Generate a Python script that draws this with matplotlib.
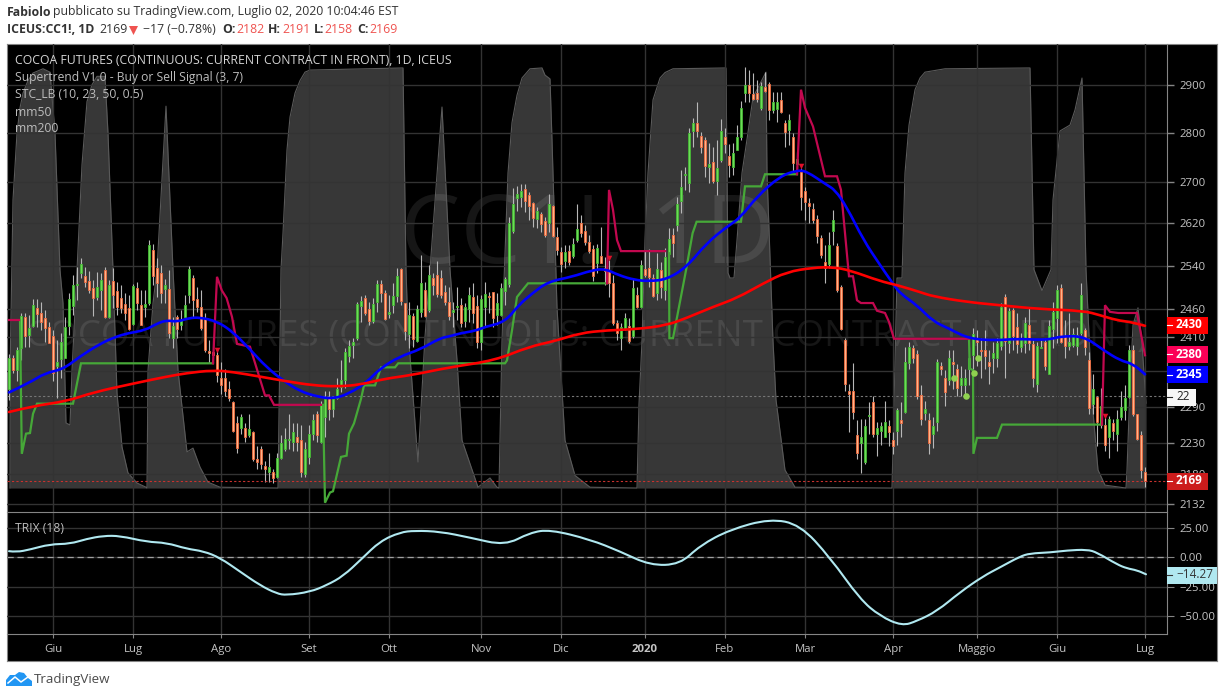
import matplotlib
matplotlib.use('Agg')
import matplotlib.pyplot as plt
from matplotlib.patches import PathPatch, Polygon, Rectangle
from matplotlib.path import Path

plt.rcParams['font.family'] = ['Open Sans', 'DejaVu Sans']

opens = [2319,2374,2352,2390,2445,2413,2429,2462,2453,2444,
 2427,2411,2359,2371,2374,2429,2465,2503,2526,2520,
 2511,2498,2482,2494,2531,2445,2511,2492,2480,2469,
 2462,2433,2498,2467,2463,2471,2569,2535,2526,2496,
 2496,2408,2445,2431,2445,2485,2517,2478,2463,2444,
 2385,2383,2378,2338,2339,2319,2298,2262,2254,2254,
 2242,2247,2203,2220,2193,2182,2182,2175,2206,2220,
 2234,2232,2240,2235,2179,2207,2245,2277,2231,2272,
 2307,2286,2305,2324,2336,2376,2396,2409,2465,2480,
 2460,2438,2472,2506,2489,2452,2467,2483,2533,2471,
 2415,2447,2403,2454,2494,2458,2517,2522,2517,2491,
 2472,2454,2463,2467,2438,2460,2482,2465,2401,2463,
 2483,2491,2449,2449,2492,2506,2605,2669,2671,2687,
 2675,2659,2628,2638,2624,2620,2654,2594,2565,2548,
 2567,2557,2588,2620,2605,2584,2571,2544,2557,2535,
 2529,2507,2435,2408,2424,2429,2411,2485,2463,2533,
 2535,2517,2489,2531,2494,2561,2597,2617,2663,2714,
 2699,2804,2821,2794,2785,2731,2741,2703,2745,2791,
 2753,2731,2765,2791,2884,2900,2880,2882,2852,2896,
 2903,2848,2850,2869,2821,2806,2791,2737,2721,2683,
 2659,2648,2628,2592,2546,2542,2605,2576,2500,2404,
 2317,2317,2242,2229,2199,2274,2298,2245,2250,2240,
 2257,2234,2250,2268,2281,2364,2390,2380,2310,2280,
 2267,2244,2264,2359,2339,2336,2366,2355,2327,2326,
 2354,2378,2408,2388,2387,2367,2373,2374,2394,2482,
 2399,2458,2427,2392,2399,2431,2397,2329,2391,2401,
 2346,2424,2444,2498,2411,2394,2396,2394,2417,2422,
 2369,2295,2307,2259,2260,2240,2262,2245,2272,2285,
 2307,2387,2278,2242,2182]
highs = [2380,2378,2392,2453,2453,2449,2478,2478,2472,2458,
 2436,2422,2404,2417,2445,2489,2522,2537,2554,2537,
 2529,2513,2527,2526,2537,2513,2535,2509,2504,2489,
 2485,2506,2509,2494,2494,2588,2580,2554,2541,2515,
 2531,2445,2449,2458,2485,2539,2522,2500,2494,2453,
 2404,2409,2390,2366,2355,2334,2300,2275,2277,2262,
 2278,2249,2225,2225,2201,2214,2188,2214,2242,2254,
 2278,2262,2262,2259,2231,2259,2278,2283,2300,2317,
 2317,2308,2338,2369,2390,2404,2409,2472,2483,2485,
 2472,2480,2513,2513,2494,2485,2507,2535,2535,2471,
 2472,2453,2467,2559,2509,2541,2526,2548,2531,2504,
 2500,2472,2500,2480,2471,2500,2507,2485,2485,2509,
 2491,2491,2489,2507,2518,2632,2689,2693,2697,2697,
 2681,2661,2652,2642,2632,2677,2656,2613,2575,2578,
 2578,2592,2657,2636,2617,2597,2578,2580,2613,2556,
 2550,2522,2440,2435,2453,2444,2517,2500,2550,2569,
 2571,2524,2563,2546,2573,2611,2611,2671,2725,2731,
 2810,2831,2863,2802,2791,2779,2771,2785,2829,2810,
 2777,2779,2816,2867,2939,2932,2926,2911,2907,2928,
 2907,2886,2886,2886,2827,2838,2800,2761,2729,2691,
 2669,2659,2636,2597,2578,2603,2646,2582,2504,2408,
 2329,2364,2267,2270,2270,2297,2308,2264,2264,2300,
 2267,2247,2288,2298,2392,2401,2396,2387,2326,2300,
 2280,2272,2371,2366,2352,2387,2387,2362,2360,2355,
 2392,2426,2422,2408,2422,2387,2401,2408,2471,2487,
 2462,2462,2453,2417,2445,2462,2404,2401,2404,2408,
 2440,2472,2504,2506,2440,2453,2426,2427,2507,2426,
 2383,2346,2308,2321,2275,2275,2269,2285,2317,2327,
 2396,2396,2278,2249,2191]
lows = [2302,2348,2334,2369,2392,2392,2427,2427,2422,2401,
 2399,2334,2305,2339,2373,2413,2449,2476,2517,2500,
 2489,2447,2476,2458,2444,2444,2462,2449,2453,2440,
 2422,2431,2458,2431,2445,2467,2504,2482,2471,2471,
 2408,2390,2409,2422,2444,2471,2444,2454,2422,2383,
 2364,2364,2331,2312,2308,2300,2247,2214,2245,2231,
 2239,2201,2188,2188,2167,2167,2165,2173,2204,2217,
 2220,2217,2217,2175,2175,2196,2234,2231,2229,2239,
 2267,2272,2303,2314,2321,2366,2374,2404,2436,2449,
 2431,2435,2454,2472,2440,2444,2453,2472,2467,2404,
 2390,2392,2401,2445,2445,2454,2485,2482,2480,2467,
 2440,2427,2440,2427,2427,2436,2435,2390,2387,2427,
 2453,2427,2431,2447,2467,2500,2601,2644,2652,2642,
 2626,2613,2611,2603,2594,2603,2594,2559,2527,2535,
 2541,2554,2584,2594,2578,2563,2511,2526,2544,2504,
 2482,2431,2404,2387,2422,2399,2409,2462,2462,2518,
 2500,2482,2476,2480,2476,2554,2556,2605,2640,2685,
 2681,2771,2792,2759,2711,2699,2699,2675,2741,2759,
 2711,2715,2765,2785,2865,2865,2869,2863,2848,2886,
 2827,2842,2823,2842,2771,2775,2721,2721,2646,2626,
 2620,2620,2582,2554,2507,2535,2578,2491,2422,2317,
 2247,2270,2204,2181,2195,2245,2239,2209,2227,2239,
 2224,2212,2227,2240,2280,2355,2364,2303,2259,2267,
 2212,2222,2250,2343,2291,2326,2319,2308,2308,2307,
 2326,2352,2360,2339,2355,2329,2348,2357,2387,2339,
 2382,2387,2382,2383,2382,2387,2324,2315,2390,2352,
 2345,2390,2399,2399,2373,2387,2392,2378,2413,2378,
 2278,2278,2224,2255,2217,2206,2234,2217,2267,2267,
 2305,2275,2234,2173,2158]
closes = [2373,2352,2387,2447,2411,2426,2467,2451,2436,2426,
 2399,2348,2367,2401,2427,2478,2504,2505,2542,2509,
 2494,2480,2500,2513,2445,2504,2485,2463,2462,2453,
 2424,2502,2471,2431,2469,2578,2520,2507,2489,2504,
 2418,2429,2424,2440,2467,2533,2476,2463,2426,2387,
 2382,2378,2343,2327,2317,2305,2250,2222,2272,2240,
 2252,2203,2198,2196,2187,2190,2173,2206,2229,2237,
 2237,2247,2232,2182,2220,2244,2268,2242,2295,2303,
 2286,2303,2319,2336,2383,2394,2401,2469,2474,2453,
 2438,2469,2506,2489,2442,2454,2483,2520,2474,2420,
 2449,2406,2460,2507,2447,2522,2504,2487,2485,2472,
 2447,2458,2465,2435,2463,2485,2453,2401,2478,2487,
 2482,2444,2471,2498,2515,2620,2657,2677,2683,2663,
 2654,2630,2644,2618,2597,2657,2596,2569,2542,2565,
 2546,2580,2609,2601,2584,2567,2520,2573,2544,2529,
 2507,2435,2417,2427,2444,2403,2498,2463,2541,2522,
 2518,2483,2533,2500,2556,2590,2582,2657,2691,2716,
 2800,2821,2804,2771,2733,2737,2703,2729,2804,2777,
 2735,2759,2791,2852,2900,2882,2871,2871,2898,2888,
 2848,2865,2863,2844,2802,2827,2739,2747,2671,2661,
 2654,2626,2596,2559,2535,2578,2626,2494,2424,2329,
 2312,2281,2214,2240,2257,2276,2245,2254,2257,2265,
 2247,2224,2285,2262,2366,2392,2373,2308,2270,2286,
 2229,2257,2367,2354,2315,2374,2362,2322,2339,2339,
 2374,2415,2401,2385,2376,2360,2382,2399,2463,2403,
 2456,2411,2397,2404,2435,2399,2338,2394,2393,2360,
 2429,2454,2494,2401,2394,2401,2415,2413,2485,2392,
 2288,2319,2264,2291,2227,2270,2250,2270,2290,2305,
 2387,2277,2237,2186,2169]

# medie mobili, lette a intervalli
mm50_x = [0,5.25,9,13.6,17.75,22.75,26.5,29.8,34,37,39.4,42,45,47.75,52,56,60,64.4,68.6,72.75,77,81,85,89.4,92.75,97.75,102.75,107.75,110,113,116.5,119,124,127.4,130.7,134.8,140.7,145.7,149,152.4,156.5,160,164.4,169.4,174.4,179.4,182.75,187,192.75,197,199.4,204.4,206.5,209.4,213.6,217.75,221,223,227,231,235,240,246.8,251.9,257.8,261,262.8,268.6,273.6,277.75,281,284]
mm50_y = [2314,2331,2347,2354,2376,2398,2410,2417,2422,2434,2440,2437,2444,2445,2438,2419,2390,2357,2334,2316,2307,2303,2312,2331,2355,2376,2388,2408,2411,2417,2421,2428,2437,2467,2488,2510,2519,2531,2534,2522,2513,2511,2514,2537,2582,2613,2630,2672,2712,2724,2722,2695,2685,2652,2588,2541,2506,2487,2467,2438,2425,2407,2404,2407,2405,2407,2411,2412,2387,2369,2363,2345]
mm200_x = [0,6,14.4,21,31,39.4,44.4,51,56,62.75,69.4,76,82,87.75,93.6,101,110,121.5,130,136.5,142.75,149.4,157,164.4,169.4,176,182,188.6,194.4,201,206,210.25,217.75,221.9,227.75,231,239.4,247.75,257.75,268.6,272.75,276.9,280.25,284]
mm200_y = [2281,2291,2299,2314,2329,2341,2347,2352,2349,2341,2333,2326,2324,2327,2337,2344,2357,2369,2393,2403,2417,2422,2424,2431,2444,2464,2480,2507,2528,2536,2537,2531,2511,2504,2491,2483,2473,2467,2460,2457,2449,2440,2437,2430]

# supertrend, tratti alternati
up1_x = [2.75,3.2,4.25,5.25,6,7,16,18,51]
up1_y = [2440,2212,2245,2246,2278,2295,2295,2364,2364]
up2_x = [78.5,79,80.25,81,83,84.4,85,86.25,88,88.75,91.5,93,96.5,97.3,124,124.5,125.75,127,129.75,149.5]
up2_y = [2293,2134,2150,2152,2207,2209,2245,2262,2303,2326,2326,2357,2357,2364,2364,2369,2422,2482,2507,2507]
up3_x = [165,165.1,166,169.25,170.9,171.9,183,184,188,189,197]
up3_y = [2563,2408,2408,2531,2601,2623,2623,2692,2692,2716,2716]
up4_x = [240,240.2,241,241.1,242,247,248.25,273.25]
up4_y = [2407,2355,2352,2212,2238,2238,2260,2260]
dn0_x = [0,2.5]
dn0_y = [2440,2440]
dn1_x = [51,52,53.2,54.4,55.75,57,60.25,64,65,66.25,78]
dn1_y = [2364,2519,2494,2480,2446,2398,2393,2309,2309,2293,2293]
dn2_x = [149.5,150,151,152,153,164]
dn2_y = [2507,2685,2646,2588,2567,2567]
dn3_x = [197,198,199,201,204,207,208,210,211,212,213,216,217,219,220,221.25,240]
dn3_y = [2716,2890,2852,2813,2712,2712,2685,2520,2520,2476,2471,2471,2457,2453,2437,2407,2407]
dn4_x = [273.25,274,275.25,277.3,282,284]
dn4_y = [2260,2467,2455,2453,2453,2378]
sell_x = [52,150,198,274]
sell_y = [2387,2554,2733,2275]
dots_x = [236.25,239.25,241.25,242.25]
dots_y = [2339,2308,2348,2374]

# STC_LB, 0-100
stc_x = [0.25,0.3,1,2,2.75,3.5,4.75,6,8.5,10.25,11.5,12.75,13.5,14.25,15.25,15.75,17,18.25,19.5,20.75,22,24,24.75,26,27,28.25,29.75,32,34.25,34.5,34.75,36,37,39.25,41,42.25,44.5,46,47.75,49.75,52.75,67.25,68,68.5,69.5,70.25,71.5,72.75,74,75.25,98.5,99.25,99.75,102.25,104,105.25,108.25,110.25,112,113.25,117.25,120.25,122,122.5,123.25,123.5,124.75,125.75,127,128.25,130.25,133.25,134,135.25,135.75,137,137.5,139,141.5,145.25,157,157.5,158.25,159,159.75,161,162.75,164,166,179.25,179.75,180.25,181.25,182,183.25,184.5,186,189.25,189.5,191,191.75,194,196.5,220.75,222,223.25,224,225,226.5,227.75,229,234,255.25,256.25,258.25,260.5,261,262.75,265.25,266.5,268.25,269.25,270.75,272.25,274,279.25,279.5,280.25,281,282.25,283.25,284.25]
stc_y = [0,30,68.6,84.5,90.5,94,97,98.8,99.8,99,84.5,51.9,44,15.5,15,28,51.9,77,92,96,98,98,84.5,51.9,22.6,9.8,3.6,1.2,0.2,0,28,44,52,90.9,52,28,8.6,9.5,5,1.4,0.2,0,52,60.7,80.5,88.3,94,97,99,99.5,100,52,37.6,6.2,36,52,90.7,52,30.5,11.4,0.2,2.4,0.2,0,35,43,75,87,93.5,97.6,99.8,100,98.3,97.4,82.9,43,35,11.4,3,0.2,0,20,35,59,75,92.4,97.6,98.9,99.8,100,51.2,50,50,59,75,83,93,99,75,35,21,4.3,0.2,0,50,50,75,86.4,94.8,97.6,99,99.8,100,52,47,52,68.6,85,86.4,90,97.6,52,21,4.3,0.7,0,4.3,24,38.8,42.9,34.5,20.2]

trix_x = [0,1.9,5.25,10.25,15.25,19.4,23.6,27.75,34.4,39.4,44.4,48.6,52.75,57.75,62.75,66.9,69.4,75.25,79.4,83.6,88.2,92.75,97.75,101.5,107.75,115.25,124,130.25,135.25,145.25,152.75,160.25,167.75,172.75,180.25,190.25,197.75,205.25,212.75,217.75,223.25,227,232,237.75,243.5,247.75,252.75,255.25,260.25,264.5,269.5,272,277,279.5,282,284.25]
trix_y = [5.3,4.5,6.7,11.2,11.5,15.7,18.3,18.3,13.2,12.4,7.3,5.3,-0.3,-12,-23.6,-30.6,-32,-29.2,-23.6,-15.7,-1.1,13.7,21.3,22.7,21.9,16.8,10.1,21,23.6,15.2,5.1,-6.7,-5.9,10.1,23.6,32.8,27.8,0,-35.4,-49.7,-58,-53.9,-45.5,-29.5,-16,-8.4,0.8,3.4,4.2,5.9,6.7,4.2,-5.9,-9.3,-10.9,-14.3]

month_pos = [11,31,53,75,95,118,138,159,179,199,221,242,262,284]
month_labels = ['Giu','Lug','Ago','Set','Ott','Nov','Dic','2020','Feb','Mar','Apr','Maggio','Giu','Lug']
price_ticks = [2132,2180,2230,2290,2350,2410,2460,2540,2620,2700,2800,2900]
trix_ticks = [25,0,-25,-50]

W, H = 1224, 698
GRID = '#333333'
BORDER = '#858585'
LABEL = '#c4c4c4'

def rect(x0, y0, x1, y1):
    return [x0 / W, 1 - y1 / H, (x1 - x0) / W, (y1 - y0) / H]

def smooth_line(axes, xs, ys, color, lw, zorder):
    # curva morbida che passa tra i punti letti
    pts = list(zip(xs, ys))
    verts = [pts[0]]
    codes = [Path.MOVETO]
    for a, b in zip(pts[1:-1], pts[2:]):
        verts += [a, ((a[0] + b[0]) / 2, (a[1] + b[1]) / 2)]
        codes += [Path.CURVE3, Path.CURVE3]
    verts.append(pts[-1])
    codes.append(Path.LINETO)
    axes.add_patch(PathPatch(Path(verts, codes), fill=False, edgecolor=color, lw=lw, zorder=zorder, capstyle='round'))

fig = plt.figure(figsize=(W / 100, H / 100), dpi=100, facecolor='white')

frame = fig.add_axes(rect(6.5, 44, 1217, 661), facecolor='black')
frame.set_xticks([])
frame.set_yticks([])
for s in frame.spines.values():
    s.set_color(BORDER)

ax = fig.add_axes(rect(7, 44, 1167, 512))
trix_ax = fig.add_axes(rect(7, 512, 1167, 634), facecolor='none')

ax.set_yscale('log')
ax.set_xlim(-0.5, 289.5)
ax.set_ylim(2119.5, 2988.6)
ax.set_yticks(price_ticks)
ax.set_yticklabels([str(t) for t in price_ticks])
ax.minorticks_off()
ax.tick_params(axis='y', which='minor', length=0)

stc_ax = ax.twinx()
stc_ax.set_ylim(-5.7, 105.7)
stc_ax.set_yticks([])
stc_ax.set_zorder(1)
stc_ax.set_facecolor('none')
ax.set_zorder(2)
ax.patch.set_visible(False)
ax.yaxis.tick_right()
for s in stc_ax.spines.values():
    s.set_visible(False)

# watermark
stc_ax.text(0.5, 0.585, 'CC1!, 1D', transform=stc_ax.transAxes, fontsize=69, color='#161616',
            ha='center', va='center', zorder=0)
stc_ax.text(0.5, 0.375, 'COCOA FUTURES (CONTINUOUS: CURRENT CONTRACT IN FRONT)', transform=stc_ax.transAxes,
            fontsize=26.5, color='#161616', ha='center', va='center', zorder=0)

stc_ax.fill_between(stc_x, 0, stc_y, color='white', alpha=0.22, linewidth=0, zorder=1)
stc_ax.plot(stc_x, stc_y, color='#5a5a5a', lw=0.8, zorder=2)
stc_ax.axhline(22, color='#777777', lw=0.8, ls=(0, (2, 2)), zorder=2)

ax.grid(True, color=GRID, lw=1)
ax.set_axisbelow(True)
ax.set_xticks(month_pos)
ax.tick_params(axis='x', length=0, labelbottom=False)
ax.tick_params(axis='y', colors=LABEL, labelsize=8.2, length=5, width=1, color=BORDER, pad=4)
for side in ['top', 'left']:
    ax.spines[side].set_visible(False)
ax.spines['right'].set_color(BORDER)
ax.spines['bottom'].set_color(BORDER)

# candele
for i in range(len(opens)):
    up = closes[i] >= opens[i]
    ax.vlines(i, lows[i], highs[i], color='#b8b8b8', lw=0.8, zorder=3)
    bottom = min(opens[i], closes[i])
    height = max(abs(closes[i] - opens[i]), 1)
    ax.bar(i, height, bottom=bottom, width=0.72, color='#6cdc58' if up else '#ffb48a',
           edgecolor='#45b834' if up else '#ee6a3e', lw=0.6, zorder=4)

for xs, ys in [(up1_x, up1_y), (up2_x, up2_y), (up3_x, up3_y), (up4_x, up4_y)]:
    ax.plot(xs, ys, color='#46a838', lw=1.6, zorder=5, solid_joinstyle='miter')
for xs, ys in [(dn0_x, dn0_y), (dn1_x, dn1_y), (dn2_x, dn2_y), (dn3_x, dn3_y), (dn4_x, dn4_y)]:
    ax.plot(xs, ys, color='#c2084f', lw=1.6, zorder=5, solid_joinstyle='miter')
ax.scatter(sell_x, sell_y, marker='v', s=16, color='#e0102a', zorder=6, linewidths=0)
ax.scatter(dots_x, dots_y, marker='o', s=22, color='#8fd14f', zorder=6, linewidths=0)

smooth_line(ax, mm50_x, mm50_y, '#0000ff', 1.9, 7)
smooth_line(ax, mm200_x, mm200_y, '#ff0000', 1.9, 7)
ax.axhline(closes[-1], color='#c8322e', lw=0.8, ls=(0, (2, 2)), zorder=6)

# TRIX
trix_ax.set_xlim(-0.5, 289.5)
trix_ax.set_ylim(-64.9, 38.5)
trix_ax.set_xticks(month_pos)
trix_ax.set_xticklabels(month_labels)
trix_ax.get_xticklabels()[7].set_fontweight('bold')
trix_ax.set_yticks(trix_ticks)
trix_ax.set_yticklabels(['25.00', '0.00', '\u221225.00', '\u221250.00'])
trix_ax.yaxis.tick_right()
trix_ax.grid(True, color=GRID, lw=1)
trix_ax.set_axisbelow(True)
trix_ax.tick_params(axis='y', colors=LABEL, labelsize=8.2, length=5, color=BORDER, pad=4)
trix_ax.tick_params(axis='x', colors=LABEL, labelsize=8.2, length=3, color=BORDER, pad=4)
for side in ['top', 'left']:
    trix_ax.spines[side].set_visible(False)
trix_ax.spines['right'].set_color(BORDER)
trix_ax.spines['bottom'].set_color(BORDER)
trix_ax.axhline(0, color='#a0a0a0', lw=0.9, ls=(0, (5, 3)), zorder=2)
smooth_line(trix_ax, trix_x, trix_y, '#b0e8f0', 1.5, 3)

# testi e cartellini, in pixel
top = fig.add_axes([0, 0, 1, 1], facecolor='none', zorder=10)
top.set_xlim(0, W)
top.set_ylim(H, 0)
top.axis('off')

HEAD = '#333333'
RED = '#ef5350'
FS = 8.85
top.text(7, 12, 'Fabiolo', fontsize=FS, fontweight='bold', color=HEAD, va='center')
top.text(53, 12, 'pubblicato su TradingView.com, Luglio 02, 2020 10:04:46 EST', fontsize=FS, color=HEAD, va='center')
top.text(7, 29.5, 'ICEUS:CC1!, 1D', fontsize=FS, fontweight='bold', color=HEAD, va='center')
top.text(99, 29.5, '2169', fontsize=FS, color=HEAD, va='center')
top.add_patch(Polygon([(129, 26), (138, 26), (133.5, 35)], color=RED, lw=0))
top.text(143, 29.5, '\u221217 (\u22120.78%)', fontsize=FS, color=HEAD, va='center')
for x0, name, x1, val in [(222, 'O:', 236, '2182'), (268, 'H:', 282, '2191'),
                          (314, 'L:', 324, '2158'), (357, 'C:', 369, '2169')]:
    top.text(x0, 29.5, name, fontsize=FS, fontweight='bold', color=HEAD, va='center')
    top.text(x1, 29.5, val, fontsize=FS, color=RED, va='center')

top.text(15, 60, 'COCOA FUTURES (CONTINUOUS: CURRENT CONTRACT IN FRONT), 1D, ICEUS', fontsize=8.8,
         fontweight='medium', color='#d6d6d6', va='center')
for y, s in [(77, 'Supertrend V1.0 - Buy or Sell Signal (3, 7)'), (95, 'STC_LB (10, 23, 50, 0.5)'),
             (112, 'mm50'), (129, 'mm200')]:
    top.text(15, y, s, fontsize=8.7, color='#bdbdbd', va='center')
top.text(15, 528, 'TRIX (18)', fontsize=8.7, color='#bdbdbd', va='center')

for y, txt, bg, fg, x1, bold in [(325, '2430', '#ff0000', 'white', 1208, True), (354, '2380', '#fb0057', 'white', 1208, True),
                                 (374.5, '2345', '#0000ff', 'white', 1208, True), (397, '22', '#f7f7f7', '#222222', 1196, False),
                                 (481, '2169', '#cc1c1c', 'white', 1208, True), (575, '\u221214.27', '#b0e8f0', '#333333', 1217, False)]:
    top.add_patch(Rectangle((1167, y - 8.5), x1 - 1167, 17, color=bg, lw=0))
    top.plot([1167, 1172], [y, y], color=fg, lw=0.8)
    top.text(1176, y, txt, fontsize=8.5, color=fg, va='center', fontweight='bold' if bold else 'normal')

# logo
top.add_patch(Polygon([(6, 686), (6, 680), (10, 675), (15, 675), (19, 672), (24, 673), (28, 678), (32, 681), (32, 686)],
                      color='#2196f3', lw=0))
top.plot([8, 15, 21, 28], [683, 677, 682, 677], color='white', lw=1.1)
top.text(34, 680, 'TradingView', fontsize=9.6, color='#4a4a4a', va='center')

fig.savefig('out.png', dpi=100, facecolor='white')
